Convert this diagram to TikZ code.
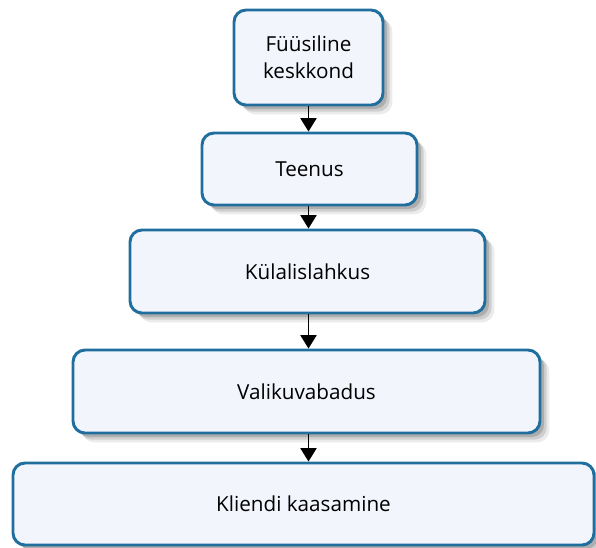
\documentclass[tikz,border=0pt]{standalone}
\usepackage{fontspec}
\setmainfont{Open Sans}
\usetikzlibrary{arrows.meta,shadows}
\definecolor{boxline}{RGB}{31,110,158}
\definecolor{boxfill}{RGB}{243,245,253}
\tikzset{
	tase/.style={draw=boxline, line width=2.2pt, fill=boxfill, rounded corners=9pt,
		inner sep=0pt, align=center, font=\fontsize{15.5}{20}\selectfont,
		drop shadow={shadow xshift=3pt, shadow yshift=-3pt, opacity=.16, fill=black},
		drop shadow={shadow xshift=5pt, shadow yshift=-5pt, opacity=.12, fill=black},
		drop shadow={shadow xshift=7pt, shadow yshift=-7pt, opacity=.08, fill=black}},
	nool/.style={line width=1.4pt, -{Triangle[width=12pt,length=10pt]}}
}
\begin{document}
\begin{tikzpicture}[x=0.75pt, y=-0.75pt]
		\useasboundingbox (0, 0) rectangle (596, 547);
		
		%%%%% TASEMED %%%%%
		\node[tase, minimum width=111.75pt, minimum height=71.25pt] (fyys) at (308.5, 57.5) {Füüsiline\\keskkond};
		\node[tase, minimum width=161.25pt, minimum height=54pt] (teenus) at (309.5, 169) {Teenus};
		\node[tase, minimum width=266.25pt, minimum height=62.25pt] (kylal) at (307.5, 271.5) {Külalislahkus};
		\node[tase, minimum width=350.25pt, minimum height=62.25pt] (valik) at (306.5, 391.5) {Valikuvabadus};
		\node[tase, minimum width=435.75pt, minimum height=61.5pt] (kaasa) at (303.5, 504) {Kliendi kaasamine};
		
		%%%%% NOOLED %%%%%
		\draw[nool] (fyys.south) -- (fyys.south |- teenus.north);
		\draw[nool] (fyys.south |- teenus.south) -- (fyys.south |- kylal.north);
		\draw[nool] (fyys.south |- kylal.south) -- (fyys.south |- valik.north);
		\draw[nool] (fyys.south |- valik.south) -- (fyys.south |- kaasa.north);
		
	\end{tikzpicture}
\end{document}
